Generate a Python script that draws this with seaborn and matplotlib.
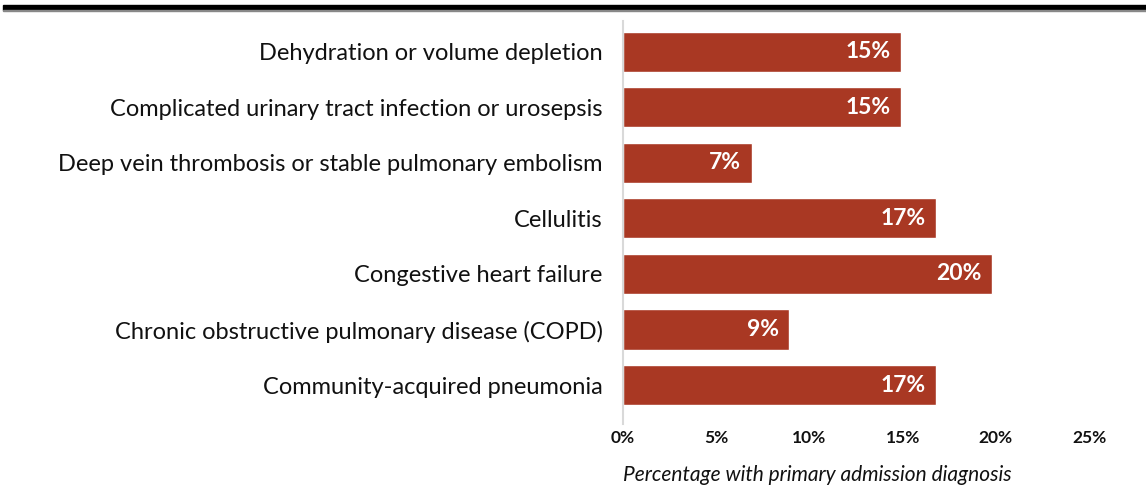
import numpy as np
import pandas as pd
import matplotlib
matplotlib.use("Agg")
import matplotlib.pyplot as plt
import seaborn as sns
from matplotlib.patches import Rectangle

# data
diagnoses = ['Dehydration or volume depletion',
             'Complicated urinary tract infection or urosepsis',
             'Deep vein thrombosis or stable pulmonary embolism',
             'Cellulitis',
             'Congestive heart failure',
             'Chronic obstructive pulmonary disease (COPD)',
             'Community-acquired pneumonia']
pct = [14.9, 14.9, 6.9, 16.8, 19.8, 8.9, 16.8]
pct_labels = ['15%', '15%', '7%', '17%', '20%', '9%', '17%']
xticks = [0, 5, 10, 15, 20, 25]
xtick_labels = ['0%', '5%', '10%', '15%', '20%', '25%']

df = pd.DataFrame({'diagnosis': diagnoses, 'pct': pct})

sns.set_style('white')
plt.rcParams['font.family'] = ['Lato', 'DejaVu Sans']
txt = '#111111'

fig = plt.figure(figsize=(11.46, 4.98), dpi=100)
ax = fig.add_axes([0.5436, 0.171, 0.9503 - 0.5436, 0.952 - 0.171])

sns.barplot(data=df, x='pct', y='diagnosis', color='#A93823', saturation=1,
            width=0.72, ax=ax)

for i, (v, lab) in enumerate(zip(pct, pct_labels)):
    ax.text(v - 0.55, i, lab, ha='right', va='center', color='white',
            fontsize=16.5, fontweight='bold')

ax.set_xlim(0, 25)
ax.set_ylim(6.5, -0.5)
ax.set_xticks(xticks)
ax.set_xticklabels(xtick_labels, fontsize=12.5, fontweight='bold', color=txt)
ax.tick_params(axis='y', labelsize=17, length=0, pad=14.5, labelcolor=txt)
ax.tick_params(axis='x', length=0, pad=12)
ax.set_ylabel('')
ax.set_xlabel('Percentage with primary admission diagnosis', fontsize=15,
              style='italic', labelpad=14, loc='left', color=txt)
for s in ['top', 'right', 'bottom']:
    ax.spines[s].set_visible(False)
ax.spines['left'].set_color('#d9d9d9')
ax.spines['left'].set_linewidth(1.5)
ax.spines['left'].set_bounds(6.7, -0.55)

# black band at the top
fig.patches.append(Rectangle((0.003, 1 - 10 / 498), 0.997, 5 / 498,
                             transform=fig.transFigure, color='black'))
fig.patches.append(Rectangle((0.003, 1 - 11 / 498), 0.997, 1 / 498,
                             transform=fig.transFigure, color='#888888'))

fig.savefig('out.png', dpi=100)
